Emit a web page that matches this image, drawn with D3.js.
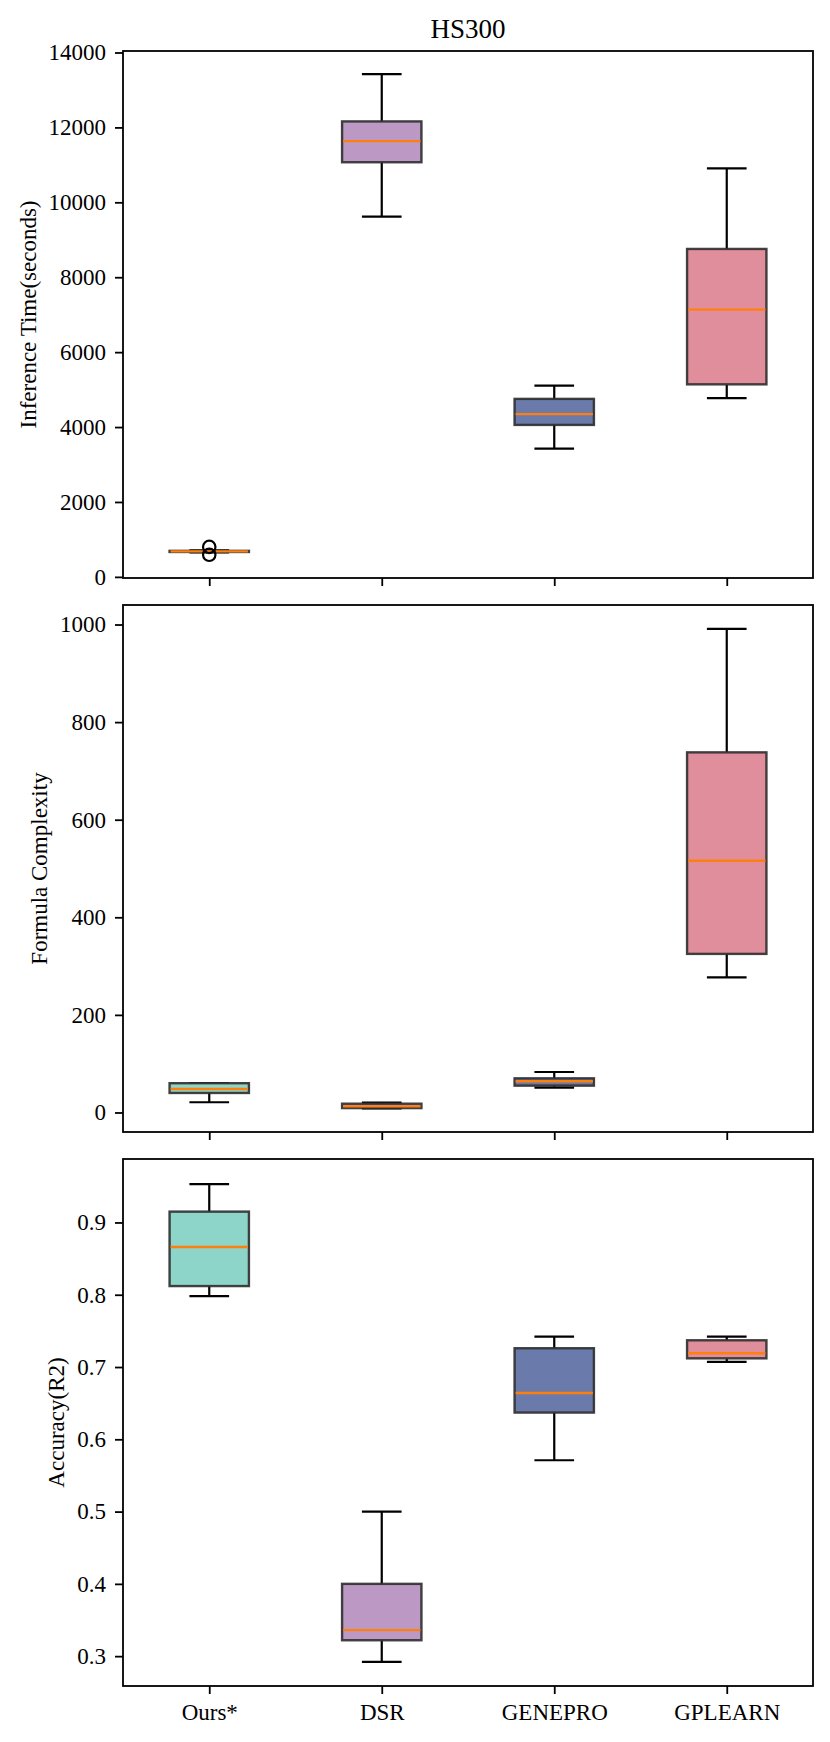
<!DOCTYPE html>
<html>
<head>
<meta charset="utf-8">
<script src="https://cdn.jsdelivr.net/npm/d3@7"></script>
<style>
  html, body { margin: 0; padding: 0; background: #fff; }
  svg { display: block; }
  text { font-family: "Liberation Serif", "DejaVu Serif", serif; fill: #000; }
</style>
</head>
<body>
<svg id="chart" width="830" height="1742"></svg>
<script>
// ---------------- data ----------------
const categories = ["Ours*", "DSR", "GENEPRO", "GPLEARN"];
const boxColors = ["#8DD5C8", "#BC99C4", "#6A7AAB", "#E18E9C"];

// [whiskerLow, q1, median, q3, whiskerHigh]
const timeStats = [
  [655, 665, 681, 695, 705],
  [9620, 11070, 11635, 12160, 13420],
  [3425, 4057, 4345, 4752, 5105],
  [4775, 5140, 7135, 8755, 10905]
];
const timeOutliers = [[590, 800], [], [], []];

const complexityStats = [
  [21, 40, 48, 60, 60],
  [8.5, 9, 12.5, 18, 20],
  [51, 55, 64, 70, 83],
  [277, 325, 516, 738, 991]
];
const complexityOutliers = [[], [], [], []];

const accuracyStats = [
  [0.798, 0.812, 0.866, 0.915, 0.953],
  [0.292, 0.322, 0.336, 0.400, 0.500],
  [0.571, 0.637, 0.664, 0.726, 0.742],
  [0.707, 0.712, 0.719, 0.737, 0.742]
];
const accuracyOutliers = [[], [], [], []];

const timeTicks = [0, 2000, 4000, 6000, 8000, 10000, 12000, 14000];
const complexityTicks = [0, 200, 400, 600, 800, 1000];
const accuracyTicks = [0.3, 0.4, 0.5, 0.6, 0.7, 0.8, 0.9];

const timeDomain = [-30, 14040];
const complexityDomain = [-40, 1040];
const accuracyDomain = [0.2587, 0.9878];

const chartTitle = "HS300";
const yLabels = ["Inference Time(seconds)", "Formula Complexity", "Accuracy(R2)"];

// ---------------- layout ----------------
const svg = d3.select("#chart");
const left = 123, right = 813;
const panelTops = [51, 605, 1159];
const panelH = 527;
const fontSize = 23;

const x = d3.scalePoint().domain(categories).range([left, right]).padding(0.5);
const step = x.step();
const boxW = step * 0.46;
const capW = boxW / 2;

const panels = [
  { stats: timeStats, outliers: timeOutliers, ticks: timeTicks, domain: timeDomain, fmt: d => String(d), label: yLabels[0] },
  { stats: complexityStats, outliers: complexityOutliers, ticks: complexityTicks, domain: complexityDomain, fmt: d => String(d), label: yLabels[1] },
  { stats: accuracyStats, outliers: accuracyOutliers, ticks: accuracyTicks, domain: accuracyDomain, fmt: d3.format(".1f"), label: yLabels[2] }
];

svg.append("text")
  .attr("x", (left + right) / 2)
  .attr("y", 37.5)
  .attr("text-anchor", "middle")
  .style("font-size", "27px")
  .text(chartTitle);

panels.forEach((p, pi) => {
  const top = panelTops[pi];
  const bottom = top + panelH;
  const y = d3.scaleLinear().domain(p.domain).range([bottom, top]);
  const g = svg.append("g");

  // boxes
  p.stats.forEach((s, i) => {
    const cx = x(categories[i]);
    const [wl, q1, med, q3, wh] = s;
    const bg = g.append("g");
    // whiskers
    bg.append("line").attr("x1", cx).attr("x2", cx).attr("y1", y(q3)).attr("y2", y(wh))
      .attr("stroke", "#000").attr("stroke-width", 2.2);
    bg.append("line").attr("x1", cx).attr("x2", cx).attr("y1", y(q1)).attr("y2", y(wl))
      .attr("stroke", "#000").attr("stroke-width", 2.2);
    // caps
    [wl, wh].forEach(v => {
      bg.append("line").attr("x1", cx - capW / 2).attr("x2", cx + capW / 2)
        .attr("y1", y(v)).attr("y2", y(v))
        .attr("stroke", "#000").attr("stroke-width", 2.2);
    });
    // box
    bg.append("rect")
      .attr("x", cx - boxW / 2).attr("width", boxW)
      .attr("y", y(q3)).attr("height", Math.max(0.5, y(q1) - y(q3)))
      .attr("fill", boxColors[i])
      .attr("stroke", "#2e2e2e").attr("stroke-opacity", 0.9).attr("stroke-width", 2.4);
    // median
    bg.append("line").attr("x1", cx - boxW / 2 + 1).attr("x2", cx + boxW / 2 - 1)
      .attr("y1", y(med)).attr("y2", y(med))
      .attr("stroke", "#FF7F0E").attr("stroke-width", 2.4);
    // outliers
    p.outliers[i].forEach(v => {
      bg.append("circle").attr("cx", cx).attr("cy", y(v)).attr("r", 6.2)
        .attr("fill", "none").attr("stroke", "#000").attr("stroke-width", 2.2);
    });
  });

  // y axis
  const yAxis = d3.axisLeft(y).tickValues(p.ticks).tickSize(8).tickPadding(9).tickFormat(p.fmt);
  const ya = g.append("g").attr("transform", `translate(${left},0)`).call(yAxis);
  ya.select(".domain").remove();
  ya.selectAll(".tick line").attr("stroke", "#000").attr("stroke-width", 1.8);
  ya.selectAll(".tick text").style("font-size", fontSize + "px")
    .style("font-family", '"Liberation Serif", serif').attr("fill", "#000");

  // x axis
  const xAxis = d3.axisBottom(x).tickSize(8).tickPadding(10);
  const xa = g.append("g").attr("transform", `translate(0,${bottom})`).call(xAxis);
  xa.select(".domain").remove();
  xa.selectAll(".tick line").attr("stroke", "#000").attr("stroke-width", 1.8);
  xa.selectAll(".tick text").style("font-size", fontSize + "px")
    .style("font-family", '"Liberation Serif", serif').attr("fill", "#000");
  if (pi < 2) xa.selectAll(".tick text").remove();

  // frame
  g.append("rect").attr("x", left).attr("y", top).attr("width", right - left).attr("height", panelH)
    .attr("fill", "none").attr("stroke", "#000").attr("stroke-width", 1.8);

  // y label
  let minX = Infinity;
  ya.selectAll(".tick text").each(function () {
    const b = this.getBBox();
    minX = Math.min(minX, left + b.x);
  });
  const lx = minX - 20.5;
  const ly = (top + bottom) / 2;
  g.append("text")
    .attr("transform", `translate(${lx},${ly}) rotate(-90)`)
    .attr("text-anchor", "middle")
    .attr("dominant-baseline", "central")
    .style("font-size", fontSize + "px")
    .text(p.label);
});
</script>
</body>
</html>
